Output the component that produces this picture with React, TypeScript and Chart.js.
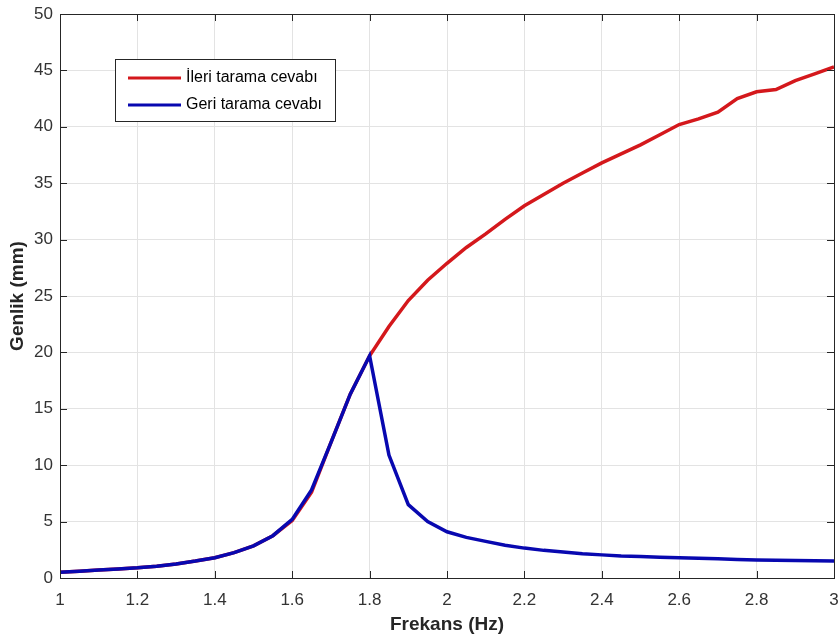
import React, { useEffect, useRef } from "react";
import { Chart, registerables } from "chart.js";

Chart.register(...registerables);

const freq = [1.0,1.05,1.1,1.15,1.2,1.25,1.3,1.35,1.4,1.45,1.5,1.55,1.6,1.65,1.7,1.75,1.8,1.85,1.9,1.95,2.0,2.05,2.1,2.15,2.2,2.25,2.3,2.35,2.4,2.45,2.5,2.55,2.6,2.65,2.7,2.75,2.8,2.85,2.9,2.95,3.0];
const forward = [0.5,0.6,0.7,0.8,0.9,1.05,1.25,1.5,1.8,2.25,2.85,3.75,5.1,7.6,12.0,16.3,19.7,22.3,24.6,26.4,27.9,29.3,30.5,31.8,33.0,34.0,35.0,35.9,36.8,37.6,38.4,39.3,40.2,40.7,41.3,42.5,43.1,43.3,44.1,44.7,45.3];
const backward = [0.5,0.6,0.7,0.8,0.9,1.05,1.25,1.5,1.8,2.25,2.85,3.75,5.2,7.8,12.0,16.3,19.7,10.9,6.5,5.0,4.1,3.6,3.25,2.9,2.65,2.45,2.3,2.15,2.05,1.95,1.9,1.85,1.8,1.75,1.7,1.65,1.6,1.58,1.55,1.52,1.5];
const seriesLabels = ["İleri tarama cevabı", "Geri tarama cevabı"];
const seriesColors = ["#d4181c", "#0808b0"];
const xTicks = [1, 1.2, 1.4, 1.6, 1.8, 2, 2.2, 2.4, 2.6, 2.8, 3];

const FONT = "'Liberation Sans', Arial, Helvetica, sans-serif";

const boxPlugin = {
  id: "matlabBox",
  afterDatasetsDraw(chart: any) {
    const { ctx, chartArea: a, scales } = chart;
    ctx.save();
    ctx.strokeStyle = "#262626";
    ctx.lineWidth = 1;
    const tl = 7;
    ctx.beginPath();
    scales.x.ticks.forEach((t: any) => {
      const px = Math.round(scales.x.getPixelForValue(t.value)) + 0.5;
      ctx.moveTo(px, a.bottom); ctx.lineTo(px, a.bottom - tl);
      ctx.moveTo(px, a.top); ctx.lineTo(px, a.top + tl);
    });
    scales.y.ticks.forEach((t: any) => {
      const py = Math.round(scales.y.getPixelForValue(t.value)) + 0.5;
      ctx.moveTo(a.left, py); ctx.lineTo(a.left + tl, py);
      ctx.moveTo(a.right, py); ctx.lineTo(a.right - tl, py);
    });
    ctx.stroke();
    ctx.strokeRect(Math.round(a.left) + 0.5, Math.round(a.top) + 0.5, Math.round(a.right - a.left), Math.round(a.bottom - a.top));

    // legend
    const lx = 115, ly = 59, lw = 220, lh = 62;
    ctx.fillStyle = "#ffffff";
    ctx.fillRect(lx, ly, lw, lh);
    ctx.strokeStyle = "#262626";
    ctx.strokeRect(lx + 0.5, ly + 0.5, lw, lh);
    const ds = chart.data.datasets;
    const rows = [78, 105];
    ds.forEach((d: any, i: number) => {
      ctx.strokeStyle = d.borderColor;
      ctx.lineWidth = 3;
      ctx.beginPath();
      ctx.moveTo(128, rows[i]); ctx.lineTo(181, rows[i]);
      ctx.stroke();
      ctx.fillStyle = "#000000";
      ctx.font = "16px " + FONT;
      ctx.textBaseline = "middle";
      ctx.textAlign = "left";
      ctx.fillText(d.label, 186, rows[i]);
    });
    ctx.restore();
  },
};

export default function App() {
  const ref = useRef<HTMLCanvasElement>(null);
  useEffect(() => {
    if (!ref.current) return;
    const fwd = freq.map((x, i) => ({ x, y: forward[i] }));
    const bwd = freq.map((x, i) => ({ x, y: backward[i] }));
    const chart = new Chart(ref.current, {
      type: "line",
      data: {
        datasets: [
          { label: seriesLabels[0], data: fwd, borderColor: seriesColors[0], backgroundColor: seriesColors[0], borderWidth: 3.5, pointRadius: 0, tension: 0, order: 2 },
          { label: seriesLabels[1], data: bwd, borderColor: seriesColors[1], backgroundColor: seriesColors[1], borderWidth: 3.5, pointRadius: 0, tension: 0, order: 1 },
        ],
      },
      options: {
        responsive: false,
        animation: false,
        layout: { padding: { top: 14, right: 4, left: 0, bottom: 0 } },
        plugins: { legend: { display: false }, tooltip: { enabled: false } },
        scales: {
          x: {
            type: "linear",
            min: 1,
            max: 3,
            afterBuildTicks: (s: any) => { s.ticks = xTicks.map((v) => ({ value: v })); },
            afterFit: (s: any) => { s.height = 58; s.paddingLeft = 0; s.paddingRight = 0; },
            grid: { color: "#e3e3e3", drawTicks: false },
            border: { display: false },
            ticks: { font: { size: 17, family: FONT }, color: "#333333", padding: 12, maxRotation: 0, callback: (v: any) => String(v) },
            title: { display: true, text: "Frekans (Hz)", font: { size: 19, weight: "bold", family: FONT }, color: "#262626", padding: { top: 0, bottom: 0 } },
          },
          y: {
            type: "linear",
            min: 0,
            max: 50,
            afterFit: (s: any) => { s.width = 60; s.paddingTop = 0; s.paddingBottom = 0; },
            grid: { color: "#e3e3e3", drawTicks: false },
            border: { display: false },
            ticks: { stepSize: 5, font: { size: 17, family: FONT }, color: "#333333", padding: 7 },
            title: { display: true, text: "Genlik (mm)", font: { size: 19, weight: "bold", family: FONT }, color: "#262626", padding: { top: 6, bottom: 0 } },
          },
        },
      },
      plugins: [boxPlugin],
    });
    return () => chart.destroy();
  }, []);
  return (
    <div style={{ position: "fixed", left: 0, top: 0, width: 838, height: 636, background: "#fff" }}>
      <canvas ref={ref} width={838} height={636} style={{ display: "block" }} />
    </div>
  );
}
